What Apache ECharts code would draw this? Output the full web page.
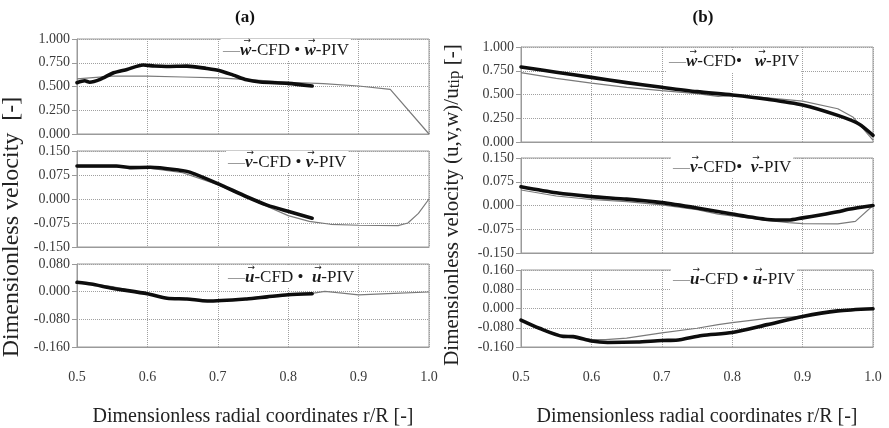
<!DOCTYPE html>
<html>
<head>
<meta charset="utf-8">
<script src="https://cdn.jsdelivr.net/npm/echarts@6/dist/echarts.min.js"></script>
<style>
html,body{margin:0;padding:0;background:#fff;}
#main{width:889px;height:428px;}
</style>
</head>
<body>
<div id="main"></div>
<script>
// ---- Data (r/R positions and dimensionless velocities) ----
// Panel (a)
const rWcfdA = [0.5,0.55,0.6,0.65,0.7,0.75,0.8,0.85,0.9,0.945,1.0];
const wCfdA  = [0.58,0.61,0.61,0.60,0.59,0.57,0.545,0.53,0.505,0.47,0.0];
const rWpivA = [0.5,0.511,0.518,0.533,0.552,0.571,0.594,0.61,0.627,0.656,0.684,0.703,0.722,0.741,0.76,0.8,0.834];
const wPivA  = [0.54,0.56,0.545,0.575,0.645,0.68,0.726,0.715,0.71,0.715,0.69,0.667,0.62,0.57,0.547,0.533,0.505];

const rVcfdA = [0.5,0.55,0.6,0.65,0.7,0.75,0.8,0.83,0.86,0.9,0.956,0.97,0.985,1.0];
const vCfdA  = [0.100,0.100,0.097,0.082,0.045,-0.004,-0.052,-0.070,-0.079,-0.082,-0.083,-0.075,-0.045,0.0];
const rVpivA = [0.5,0.556,0.575,0.604,0.646,0.66,0.699,0.741,0.77,0.802,0.834];
const vPivA  = [0.103,0.103,0.098,0.099,0.09,0.084,0.049,0.007,-0.019,-0.04,-0.06];

const rUcfdA = [0.5,0.55,0.6,0.63,0.65,0.685,0.7,0.75,0.8,0.834,0.852,0.87,0.9,0.95,1.0];
const uCfdA  = [0.027,0.015,-0.006,-0.018,-0.019,-0.026,-0.025,-0.021,-0.01,-0.005,0.001,-0.003,-0.009,-0.005,-0.001];
const rUpivA = [0.5,0.52,0.55,0.6,0.628,0.656,0.685,0.741,0.77,0.8,0.834];
const uPivA  = [0.027,0.022,0.01,-0.006,-0.019,-0.021,-0.027,-0.021,-0.015,-0.009,-0.006];

// Panel (b)
const rWcfdB = [0.5,0.55,0.6,0.65,0.7,0.75,0.78,0.8,0.85,0.9,0.95,0.972,1.0];
const wCfdB  = [0.73,0.67,0.62,0.575,0.54,0.51,0.48,0.49,0.465,0.43,0.35,0.26,0.02];
const rWpivB = [0.5,0.55,0.6,0.65,0.7,0.75,0.8,0.85,0.9,0.95,0.98,1.0];
const wPivB  = [0.79,0.735,0.68,0.625,0.576,0.53,0.495,0.45,0.39,0.28,0.19,0.07];

const rVcfdB = [0.5,0.55,0.6,0.65,0.7,0.75,0.78,0.8,0.85,0.88,0.9,0.95,0.975,1.0];
const vCfdB  = [0.049,0.03,0.019,0.012,0.002,-0.013,-0.027,-0.033,-0.047,-0.054,-0.057,-0.058,-0.05,0.0];
const rVpivB = [0.5,0.55,0.6,0.65,0.7,0.75,0.8,0.85,0.88,0.9,0.925,0.95,0.965,1.0];
const vPivB  = [0.059,0.04,0.028,0.02,0.009,-0.008,-0.027,-0.044,-0.046,-0.039,-0.03,-0.02,-0.012,0.0];

const rUcfdB = [0.5,0.526,0.56,0.6,0.62,0.65,0.7,0.75,0.78,0.8,0.85,0.9,0.95,1.0];
const uCfdB  = [-0.048,-0.082,-0.115,-0.128,-0.129,-0.123,-0.101,-0.082,-0.067,-0.059,-0.041,-0.033,-0.01,-0.001];
const rUpivB = [0.5,0.526,0.56,0.574,0.6,0.623,0.665,0.7,0.72,0.757,0.8,0.85,0.9,0.95,1.0];
const uPivB  = [-0.048,-0.082,-0.116,-0.117,-0.135,-0.141,-0.139,-0.133,-0.132,-0.112,-0.10,-0.067,-0.033,-0.01,-0.001];

// Axis ranges / labels
const xMin = 0.5, xMax = 1.0, xStep = 0.1;
const yRanges = [
  {min:0, max:1, interval:0.25},        // w (a)
  {min:-0.15, max:0.15, interval:0.075},// v (a)
  {min:-0.16, max:0.08, interval:0.08}, // u (a)
  {min:0, max:1, interval:0.25},        // w (b)
  {min:-0.15, max:0.15, interval:0.075},// v (b)
  {min:-0.16, max:0.16, interval:0.08}  // u (b)
];
const legendLetters = ['w','v','u','w','v','u'];
const legendSeps = [' \u2022 ', ' \u2022 ', ' \u2022  ', '\u2022   ', '\u2022  ', ' \u2022 '];
const panelTitles = ['(a)','(b)'];
const xTitle = 'Dimensionless radial coordinates r/R [-]';
const yTitleA = 'Dimensionless velocity  [-]';

// ---- Layout ----
const FONT = '"Liberation Serif","Times New Roman",serif';
const grids = [
  {left:77, top:39, width:352, height:95},
  {left:77, top:151, width:352, height:96},
  {left:77, top:264, width:352, height:95},
  {left:521, top:47, width:352, height:95},
  {left:521, top:158, width:352, height:95},
  {left:521, top:270, width:352, height:94}
];
const legendPos = [
  {x:223, y:51}, {x:228, y:163}, {x:228, y:278},
  {x:669, y:62}, {x:673, y:168}, {x:673, y:280}
];

function zip(xs, ys){ return xs.map((x,i)=>[x, ys[i]]); }
const seriesData = [
  [zip(rWcfdA,wCfdA), zip(rWpivA,wPivA)],
  [zip(rVcfdA,vCfdA), zip(rVpivA,vPivA)],
  [zip(rUcfdA,uCfdA), zip(rUpivA,uPivA)],
  [zip(rWcfdB,wCfdB), zip(rWpivB,wPivB)],
  [zip(rVcfdB,vCfdB), zip(rVpivB,vPivB)],
  [zip(rUcfdB,uCfdB), zip(rUpivB,uPivB)]
];

const fmt3 = v => (Math.abs(v) < 1e-9 ? 0 : v).toFixed(3);

// text measurement for composing the legend boxes
const mctx = document.createElement('canvas').getContext('2d');
function tw(text, size, style, weight){
  mctx.font = (style||'normal') + ' ' + (weight||'normal') + ' ' + size + 'px ' + FONT;
  return mctx.measureText(text).width;
}

function legendGroup(i){
  const FS = 17;
  const L = legendLetters[i];
  const parts = [
    {t:'\u2014', c:'#8a8a8a'},
    {t:L, it:true, arrow:true},
    {t:'-CFD'},
    {t:legendSeps[i]},
    {t:L, it:true, arrow:true},
    {t:'-PIV'}
  ];
  const children = [];
  let x = 0;
  parts.forEach(p => {
    const st = p.it ? 'italic' : 'normal';
    const wt = p.it ? 'bold' : 'normal';
    const w = tw(p.t, FS, st, wt);
    children.push({type:'text', x:x, y:0, z:11, style:{
      text:p.t, fontFamily:FONT, fontSize:FS, fontStyle:st, fontWeight:wt,
      fill:p.c||'#1a1a1a', verticalAlign:'middle', align:'left'
    }});
    if (p.arrow){
      children.push({type:'text', x:x + w/2 + 1.5, y:-10, z:12, style:{
        text:'\u2192', fontFamily:'"DejaVu Sans",sans-serif', fontSize:9,
        fill:'#1a1a1a', align:'center', verticalAlign:'middle'
      }});
    }
    x += w;
  });
  children.unshift({type:'rect', z:10, shape:{x:-2, y:-12, width:x+4, height:22}, style:{fill:'#fff'}});
  return {type:'group', x:legendPos[i].x, y:legendPos[i].y, children:children};
}

const option = {
  backgroundColor:'#fff',
  animation:false,
  grid: grids.map(g => Object.assign({show:true, borderColor:'#9a9a9a', borderWidth:1, backgroundColor:'transparent'}, g)),
  xAxis: grids.map((g,i) => ({
    type:'value', gridIndex:i, min:xMin, max:xMax, interval:xStep,
    axisLine:{show:true, onZero:false, lineStyle:{color:'#9a9a9a'}},
    axisTick:{show:false},
    axisLabel:{show:(i===2||i===5), formatter:v=>v.toFixed(1), fontFamily:FONT, fontSize:14, color:'#3a3a3a', margin:23},
    splitLine:{show:true, lineStyle:{color:'#a0a0a0', type:'dotted', width:1}},
    name:(i===2||i===5)? xTitle : '',
    nameLocation:'middle', nameGap:60,
    nameTextStyle:{fontFamily:FONT, fontSize:20, color:'#222'}
  })),
  yAxis: grids.map((g,i) => ({
    type:'value', gridIndex:i, min:yRanges[i].min, max:yRanges[i].max, interval:yRanges[i].interval,
    axisLine:{show:true, onZero:false, lineStyle:{color:'#9a9a9a'}},
    axisTick:{show:true, length:5, lineStyle:{color:'#9a9a9a'}},
    axisLabel:{formatter:fmt3, fontFamily:FONT, fontSize:14, color:'#3a3a3a', margin:7},
    splitLine:{show:true, lineStyle:{color:'#a0a0a0', type:'dotted', width:1}}
  })),
  series: [],
  graphic: []
};

seriesData.forEach((pair,i) => {
  option.series.push({
    type:'line', name:legendLetters[i]+'-CFD', xAxisIndex:i, yAxisIndex:i,
    data:pair[0], showSymbol:false, symbol:'none', z:2,
    lineStyle:{color:'#7a7a7a', width:1.2}
  });
  option.series.push({
    type:'line', name:legendLetters[i]+'-PIV', xAxisIndex:i, yAxisIndex:i,
    data:pair[1], showSymbol:false, symbol:'none', smooth:0.25, z:3,
    lineStyle:{color:'#0d0d0d', width:3.6, cap:'round', join:'round'}
  });
  option.graphic.push(legendGroup(i));
});

// Panel titles
option.graphic.push({type:'text', x:245, y:18, style:{text:panelTitles[0], fontFamily:FONT, fontSize:17, fontWeight:'bold', fill:'#111', align:'center', verticalAlign:'middle'}});
option.graphic.push({type:'text', x:703, y:18, style:{text:panelTitles[1], fontFamily:FONT, fontSize:17, fontWeight:'bold', fill:'#111', align:'center', verticalAlign:'middle'}});
// Y axis titles
option.graphic.push({type:'text', x:12, y:227, rotation:Math.PI/2, style:{text:yTitleA, fontFamily:FONT, fontSize:24, fill:'#222', align:'center', verticalAlign:'middle'}});
option.graphic.push({type:'text', x:452, y:205, rotation:Math.PI/2, style:{
  text:'Dimensionless velocity (u,v,w)/u{sub|tip} [-]', fontFamily:FONT, fontSize:21, fill:'#222', align:'center', verticalAlign:'middle',
  rich:{sub:{fontFamily:FONT, fontSize:17, fill:'#222', padding:[5,0,0,0]}}
}});

const chart = echarts.init(document.getElementById('main'), null, {renderer:'canvas'});
chart.setOption(option);
</script>
</body>
</html>
